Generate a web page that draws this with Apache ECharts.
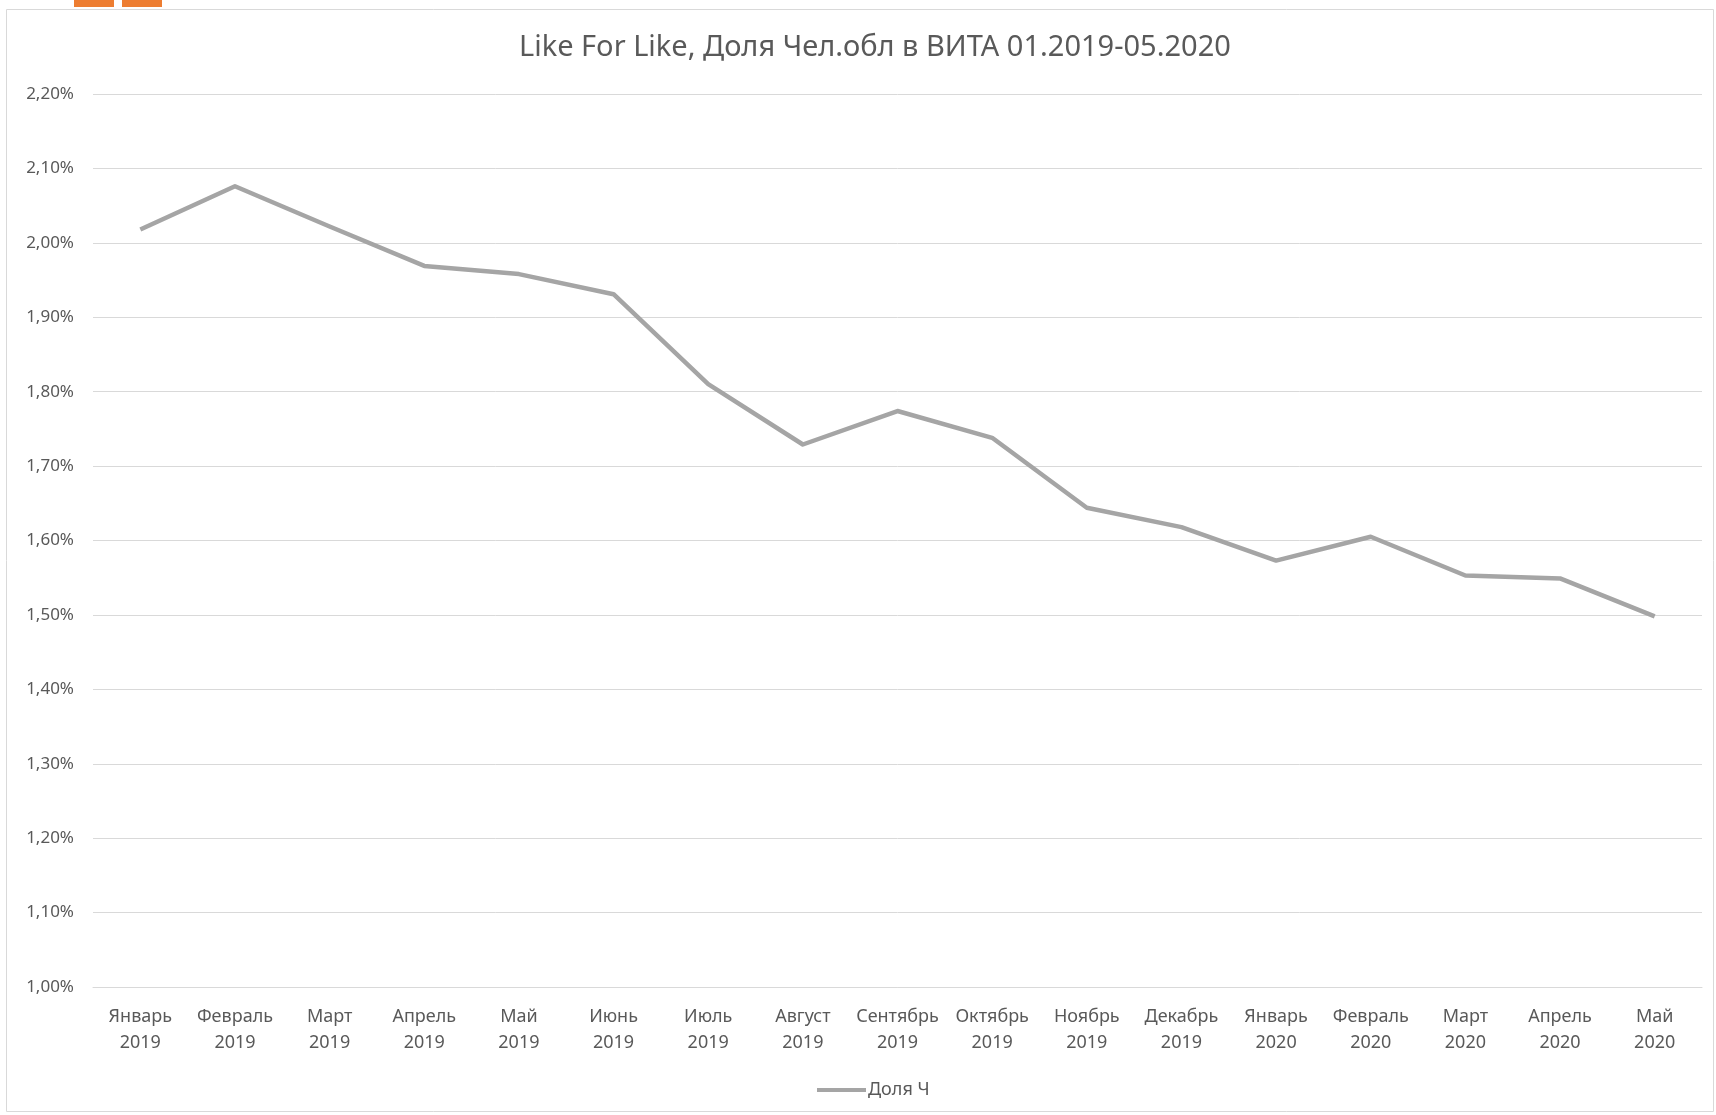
<!DOCTYPE html>
<html>
<head>
<meta charset="utf-8">
<script src="https://cdn.jsdelivr.net/npm/echarts@6/dist/echarts.min.js"></script>
<style>
  html, body { margin: 0; padding: 0; background: #ffffff; }
  #chart { width: 1716px; height: 1115px; }
</style>
</head>
<body>
<div id="chart"></div>
<script>
  // подписи месяцев
  const months = ['Январь\n2019', 'Февраль\n2019', 'Март\n2019', 'Апрель\n2019', 'Май\n2019', 'Июнь\n2019',
    'Июль\n2019', 'Август\n2019', 'Сентябрь\n2019', 'Октябрь\n2019', 'Ноябрь\n2019', 'Декабрь\n2019',
    'Январь\n2020', 'Февраль\n2020', 'Март\n2020', 'Апрель\n2020', 'Май\n2020'];
  // доля, %
  const share = [2.018, 2.076, 2.022, 1.969, 1.958, 1.931, 1.810, 1.729, 1.774, 1.738,
    1.644, 1.618, 1.573, 1.605, 1.553, 1.549, 1.498];
  const seriesName = 'Доля Ч';
  const yMin = 1.0, yMax = 2.2, yStep = 0.1;

  const font = '"Noto Sans", "Open Sans", sans-serif';
  const textColor = '#595959';

  let chart = echarts.init(document.getElementById('chart'));
  chart.setOption({
    animation: false,
    title: {
      text: 'Like For Like, Доля Чел.обл в ВИТА 01.2019-05.2020',
      left: 514,
      top: 28,
      textStyle: { color: textColor, fontFamily: font, fontSize: 29, fontWeight: 'normal' }
    },
    graphic: [
      // рамка области диаграммы
      { type: 'rect', shape: { x: 6.5, y: 9.5, width: 1707, height: 1102 }, style: { fill: 'none', stroke: '#d9d9d9', lineWidth: 1 }, silent: true },
      // кусочки оранжевых вкладок сверху
      { type: 'rect', shape: { x: 74, y: 0, width: 40, height: 7 }, style: { fill: '#ed7d31' }, silent: true },
      { type: 'rect', shape: { x: 122, y: 0, width: 40, height: 7 }, style: { fill: '#ed7d31' }, silent: true }
    ],
    grid: { left: 93, right: 14, top: 94, bottom: 128 },
    legend: {
      data: [seriesName],
      left: 812,
      top: 1076,
      icon: 'rect',
      itemWidth: 49,
      itemHeight: 4,
      textStyle: { color: textColor, fontFamily: font, fontSize: 18, padding: [0, 0, 0, -3] }
    },
    xAxis: {
      type: 'category',
      data: months,
      boundaryGap: true,
      axisTick: { show: false },
      axisLine: { lineStyle: { color: '#d9d9d9' } },
      axisLabel: { color: textColor, fontFamily: font, fontSize: 18, lineHeight: 26, margin: 17, interval: 0 }
    },
    yAxis: {
      type: 'value',
      min: yMin,
      max: yMax,
      interval: yStep,
      axisLine: { show: false },
      axisTick: { show: false },
      splitLine: { lineStyle: { color: '#d9d9d9', width: 1 } },
      axisLabel: {
        color: textColor, fontFamily: font, fontSize: 17, margin: 19,
        formatter(v) {
          return v.toFixed(2).replace('.', ',') + '%';
        }
      }
    },
    series: [{
      name: seriesName,
      type: 'line',
      data: share,
      symbol: 'none',
      lineStyle: { color: '#a5a5a5', width: 4.5, join: 'round' },
      itemStyle: { color: '#a5a5a5' }
    }]
  });
</script>
</body>
</html>
